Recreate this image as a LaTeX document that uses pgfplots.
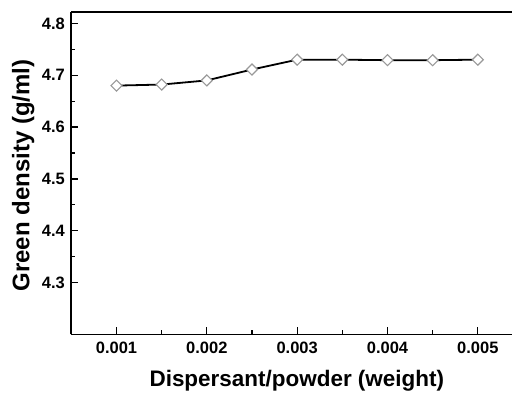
\documentclass[border=0pt]{standalone}
\usepackage{fontspec}
\setmainfont{Liberation Sans}
\usepackage{pgfplots}
\pgfplotsset{compat=1.18}
\begin{document}
\begin{tikzpicture}
\begin{axis}[
  scale only axis,
  width=442pt, height=323pt,
  xmin=0.000495, xmax=0.00538,
  ymin=4.2, ymax=4.822,
  scaled x ticks=false, scaled y ticks=false,
  axis x line*=bottom, axis y line*=left,
  axis line style={line width=1.7pt, -},
  xtick={0.001,0.002,0.003,0.004,0.005},
  xticklabels={0.001,0.002,0.003,0.004,0.005},
  ytick={4.3,4.4,4.5,4.6,4.7,4.8},
  yticklabels={4.3,4.4,4.5,4.6,4.7,4.8},
  minor x tick num=1, minor y tick num=1,
  tick align=inside,
  major tick length=7pt, minor tick length=4pt,
  tick style={line width=1.2pt, black},
  ticklabel style={font=\fontsize{16.5}{19}\selectfont\bfseries},
  /pgf/number format/assume math mode=true,
  xticklabel style={yshift=-4.5pt},
  yticklabel style={xshift=-2.5pt},
  xlabel={Dispersant/powder (weight)},
  ylabel={Green density (g/ml)},
  xlabel style={font=\fontsize{22.5}{26}\selectfont\bfseries,
    at={(axis description cs:0.512,-0.161)}, anchor=base},
  ylabel style={font=\fontsize{24}{28}\selectfont\bfseries,
    at={(axis description cs:-0.0943,0.493)}, anchor=base, rotate=0},
  clip=false,
]
\addplot[black, line width=1.8pt, mark=square*, mark size=3.9pt,
  mark options={rotate=45, fill=white, draw=gray!80, line width=1.1pt}]
  coordinates {
  (0.0010,4.680) (0.0015,4.682) (0.0020,4.690) (0.0025,4.711)
  (0.0030,4.730) (0.0035,4.730) (0.0040,4.729) (0.0045,4.729) (0.0050,4.730)
  };
\draw[line width=1.7pt] (rel axis cs:0,1) -- (rel axis cs:1,1);
\path (rel axis cs:0,0) ++(-71pt,-56pt);
\path (rel axis cs:0,1) ++(0pt,12pt);
\end{axis}
\end{tikzpicture}
\end{document}
